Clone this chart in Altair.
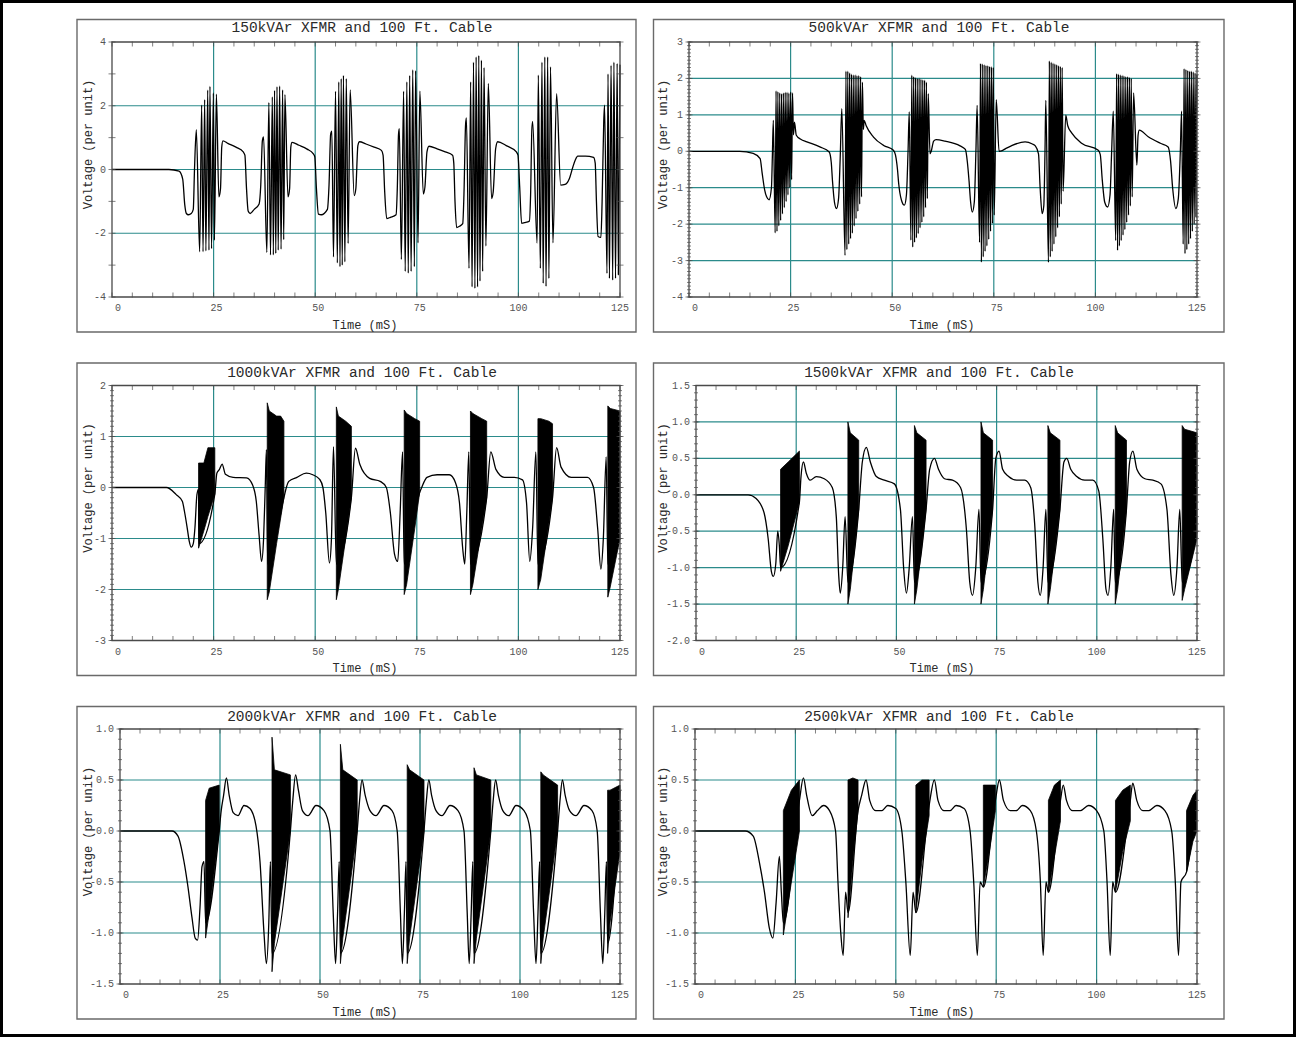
import altair as alt
import pandas as pd

FONT = "Liberation Mono"
TEAL = "#2b8b8b"
AXC = "#4a4a4a"
LABC = "#555555"
TITC = "#2a2a2a"
BOXC = "#6a6a6a"

TITLES = [
    "150kVAr XFMR and 100 Ft. Cable",
    "500kVAr XFMR and 100 Ft. Cable",
    "1000kVAr XFMR and 100 Ft. Cable",
    "1500kVAr XFMR and 100 Ft. Cable",
    "2000kVAr XFMR and 100 Ft. Cable",
    "2500kVAr XFMR and 100 Ft. Cable",
]
X_TITLE = "Time (mS)"
Y_TITLE = "Voltage (per unit)"
X_LABELS = [0, 25, 50, 75, 100, 125]
X_GRID = [25, 50, 75, 100]
X_TICKS = [0, 5, 10, 15, 20, 25, 30, 35, 40, 45, 50, 55, 60, 65, 70, 75, 80, 85,
           90, 95, 100, 105, 110, 115, 120, 125]

Y_DOMAINS = [[-4, 4], [-4, 3], [-3, 2], [-2.0, 1.5], [-1.5, 1.0], [-1.5, 1.0]]
Y_LABELS = [
    ["-4", "-2", "0", "2", "4"],
    ["-4", "-3", "-2", "-1", "0", "1", "2", "3"],
    ["-3", "-2", "-1", "0", "1", "2"],
    ["-2.0", "-1.5", "-1.0", "-0.5", "0.0", "0.5", "1.0", "1.5"],
    ["-1.5", "-1.0", "-0.5", "0.0", "0.5", "1.0"],
    ["-1.5", "-1.0", "-0.5", "0.0", "0.5", "1.0"],
]
Y_GRIDS = [
    [-2, 0, 2],
    [-3, -2, -1, 0, 1, 2],
    [-2, -1, 0, 1],
    [-1.5, -1.0, -0.5, 0.0, 0.5, 1.0],
    [-1.0, -0.5, 0.0, 0.5],
    [-1.0, -0.5, 0.0, 0.5],
]
Y_MAJOR = [
    [-4, -3, -2, -1, 0, 1, 2, 3, 4],
    [-4, -3, -2, -1, 0, 1, 2, 3],
    [-3, -2, -1, 0, 1, 2],
    [-2.0, -1.5, -1.0, -0.5, 0.0, 0.5, 1.0, 1.5],
    [-1.5, -1.0, -0.5, 0.0, 0.5, 1.0],
    [-1.5, -1.0, -0.5, 0.0, 0.5, 1.0],
]
Y_MINOR_STEP = [0, 0.1, 0.1, 0.1, 0.1, 0.1]

# ---------------- waveforms (time ms, voltage pu) ----------------
P1_WAVE = [
    (0, 0), (14, 0), (16.5, -0.05), (17.4, -0.3), (17.9, -1.1), (18.3, -1.38), (18.8, -1.42),
    (19.5, -1.38), (20.0, -1.25), (20.3, 0.0), (20.75, 1.25),
    (21.57, -2.58), (22.06, 2.02), (22.4, -2.58), (22.8, 2.19), (23.1, -2.55), (23.55, 2.49),
    (23.86, -2.53), (24.1, 2.61), (24.5, -2.48), (24.94, 2.4), (25.2, -2.22), (25.68, 2.36),
    (26.3, -0.86), (26.7, -0.6), (27.0, 0.7), (27.3, 0.9), (28.5, 0.82), (30.5, 0.7),
    (32.3, 0.55), (32.7, 0.45), (33.1, -0.6), (33.5, -1.3), (34.0, -1.38), (35.0, -1.25),
    (36.2, -1.08), (36.6, -0.5), (37.0, 0.9), (37.3, 1.02),
    (38.1, -2.6), (38.6, 2.1), (39.0, -2.68), (39.45, 2.28), (39.7, -2.68), (40.0, 2.48),
    (40.3, -2.63), (40.6, 2.6), (40.9, -2.53), (41.25, 2.62), (41.6, -2.5), (41.98, 2.5),
    (42.25, -2.2), (42.55, 2.35),
    (43.3, -0.86), (43.7, -0.6), (44.0, 0.7), (44.3, 0.85), (46.0, 0.76), (48.0, 0.64),
    (49.5, 0.5), (49.9, 0.4), (50.3, -0.6), (50.8, -1.4), (51.5, -1.42), (53.0, -1.25),
    (53.4, -0.5), (53.8, 1.1), (54.1, 1.2),
    (54.5, -2.74), (55.0, 2.45), (55.45, -2.93), (55.8, 2.75), (56.1, -3.05), (56.4, 2.85),
    (56.65, -3.0), (56.95, 2.95), (57.3, -2.9), (57.65, 2.85), (58.1, -2.32), (58.6, 2.5),
    (59.6, -0.82), (60.0, -0.6), (60.5, 0.75), (60.9, 0.87), (62.5, 0.8), (64.5, 0.7),
    (66.3, 0.6), (66.7, 0.45), (67.1, -0.7), (67.6, -1.54), (68.5, -1.5), (69.9, -1.42),
    (70.2, -0.6), (70.5, 1.1), (70.7, 1.28),
    (71.2, -2.82), (71.75, 2.45), (72.15, -3.2), (72.55, 2.75), (72.9, -3.25), (73.25, 2.95),
    (73.6, -3.2), (74.0, 3.13), (74.4, -3.05), (74.7, 3.1), (75.3, -2.3), (75.75, 2.46),
    (76.6, -0.77), (77.0, -0.55), (77.5, 0.55), (78.0, 0.73), (80.0, 0.65), (82.0, 0.55),
    (83.8, 0.45), (84.1, 0.2), (84.4, -1.0), (84.8, -1.82), (85.5, -1.78), (86.3, -1.7),
    (86.6, -0.8), (87.0, 1.4), (87.2, 1.62),
    (87.85, -3.1), (88.25, 2.75), (88.6, -3.68), (88.95, 3.37), (89.3, -3.73), (89.6, 3.53),
    (89.95, -3.68), (90.25, 3.58), (90.55, -3.5), (90.9, 3.43), (91.2, -3.2), (91.55, 3.2),
    (92.0, -2.4), (92.6, 2.7),
    (93.4, -0.91), (93.8, -0.7), (94.4, 0.65), (94.9, 0.87), (97.0, 0.75), (99.5, 0.55),
    (99.9, 0.45), (100.3, -0.5), (100.8, -1.69), (101.5, -1.67), (102.7, -1.62), (103.0, -0.8),
    (103.3, 1.2), (103.5, 1.51),
    (104.6, -2.31), (104.9, 2.96), (105.4, -3.1), (105.8, 3.37), (106.1, -3.57), (106.5, 3.53),
    (106.8, -3.67), (107.2, 3.53), (107.5, -3.42), (107.9, 3.22), (108.5, -2.3), (109.4, 2.38),
    (110.4, -0.49), (111.5, -0.47), (112.5, -0.3), (113.4, 0.08), (114.0, 0.3), (114.6, 0.42),
    (116.5, 0.42), (118.5, 0.38), (118.9, 0.2), (119.2, -1.0), (119.6, -2.1), (120.3, -2.13),
    (120.6, -1.0), (121.0, 1.5), (121.2, 2.02),
    (121.8, -3.26), (122.05, 3.0), (122.4, -3.42), (122.8, 3.27), (123.2, -3.47), (123.5, 3.37),
    (123.9, -3.42), (124.3, 3.33), (124.6, -3.3), (125.0, 3.29),
]

P2_WAVE = [
    (0, 0), (12.5, 0), (15.8, -0.06), (17.5, -0.2), (18.0, -0.6), (18.6, -1.05), (19.1, -1.25),
    (19.7, -1.33), (20.3, -0.98), (20.5, -0.2), (20.75, 0.85),
    (21.2, -2.24), (21.42, 1.66), (21.65, -2.2), (21.87, 1.64), (22.1, -2.05), (22.32, 1.6),
    (22.55, -1.9), (22.77, 1.58), (23.0, -1.72), (23.22, 1.6), (23.45, -1.55), (23.67, 1.62),
    (23.9, -1.38), (24.12, 1.62), (24.35, -1.2), (24.57, 1.6), (24.8, -1.0), (25.02, 1.63),
    (25.25, -0.78), (25.47, 1.6), (25.7, 0.45), (25.95, 0.8),
    (26.4, 0.44), (27.5, 0.33), (29.0, 0.26), (32.2, 0.12), (34.5, -0.02), (35.0, -0.3),
    (35.3, -0.8), (35.8, -1.4), (36.3, -1.57), (36.8, -1.3), (37.2, -0.2), (37.6, 1.17),
    (38.4, -2.86), (38.62, 2.2), (38.85, -2.7), (39.07, 2.2), (39.3, -2.55), (39.52, 2.15),
    (39.75, -2.4), (39.97, 2.12), (40.2, -2.25), (40.42, 2.1), (40.65, -2.05), (40.87, 2.1),
    (41.1, -1.85), (41.32, 2.08), (41.55, -1.65), (41.77, 2.08), (42.0, -1.45), (42.22, 2.05),
    (42.45, -1.25), (42.67, 1.9), (42.9, 0.6), (43.1, 0.85),
    (43.6, 0.7), (45.4, 0.39), (47.9, 0.16), (50.3, 0.03), (50.8, -0.1), (51.3, -0.5),
    (51.6, -0.89), (52.3, -1.35), (53.0, -1.48), (53.5, -1.2), (53.9, 0.0), (54.2, 1.08),
    (54.6, -2.44), (54.82, 2.09), (55.05, -2.63), (55.27, 2.05), (55.5, -2.5), (55.72, 2.02),
    (55.95, -2.38), (56.17, 2.0), (56.4, -2.26), (56.62, 2.0), (56.85, -2.1), (57.07, 1.98),
    (57.3, -1.95), (57.52, 1.96), (57.75, -1.8), (57.97, 1.95), (58.2, -1.55), (58.42, 1.9),
    (58.65, -1.3), (58.87, 1.58),
    (59.3, -0.07), (59.6, 0.0), (60.2, 0.28), (60.8, 0.32), (63.0, 0.28), (66.7, 0.15),
    (68.0, 0.05), (68.5, -0.3), (68.9, -0.8), (69.3, -1.4), (69.7, -1.67), (70.2, -1.4),
    (70.6, 0.0), (70.9, 1.26),
    (71.5, -2.5), (71.72, 2.41), (71.95, -3.04), (72.17, 2.4), (72.4, -2.9), (72.62, 2.38),
    (72.85, -2.75), (73.07, 2.36), (73.3, -2.6), (73.52, 2.35), (73.75, -2.42), (73.97, 2.33),
    (74.2, -2.2), (74.42, 2.32), (74.65, -1.98), (74.87, 2.3), (75.1, -1.75), (75.6, 1.42),
    (76.3, 0.0), (76.9, 0.01), (78.0, 0.08), (79.3, 0.15), (82.7, 0.26), (84.5, 0.2),
    (85.2, 0.15), (86.0, -0.07), (86.4, -1.0), (86.9, -1.71), (87.3, -1.5), (87.6, 0.0),
    (87.8, 1.4),
    (88.45, -3.05), (88.67, 2.48), (88.9, -2.9), (89.12, 2.45), (89.35, -2.75), (89.57, 2.42),
    (89.8, -2.55), (90.02, 2.4), (90.25, -2.35), (90.47, 2.38), (90.7, -2.1), (90.92, 2.35),
    (91.15, -1.8), (91.37, 2.33), (91.6, -1.45), (91.82, 2.3), (92.05, -1.1), (92.7, 0.99),
    (93.2, 0.7), (94.2, 0.5), (96.6, 0.22), (100.7, 0.03), (101.2, -0.09), (101.7, -0.8),
    (102.3, -1.4), (103.0, -1.53), (103.6, -1.2), (104.0, 0.0), (104.4, 1.1),
    (105.0, -2.45), (105.22, 2.13), (105.45, -2.72), (105.67, 2.12), (105.9, -2.6), (106.12, 2.1),
    (106.35, -2.45), (106.57, 2.08), (106.8, -2.3), (107.02, 2.07), (107.25, -2.15), (107.47, 2.05),
    (107.7, -1.95), (107.92, 2.05), (108.15, -1.75), (108.37, 2.03), (108.6, -1.5), (108.82, 2.0),
    (109.05, -1.25), (109.4, 1.6),
    (110.2, -0.38), (110.5, 0.44), (110.8, 0.58), (113.0, 0.4), (116.0, 0.22), (117.9, 0.12),
    (118.5, -0.27), (119.0, -1.0), (119.8, -1.57), (120.4, -1.3), (120.9, 0.0), (121.2, 1.1),
    (121.6, -2.55), (121.82, 2.27), (122.05, -2.81), (122.27, 2.25), (122.5, -2.7), (122.72, 2.22),
    (122.95, -2.55), (123.17, 2.2), (123.4, -2.4), (123.62, 2.2), (123.85, -2.2), (124.07, 2.18),
    (124.3, -2.0), (124.52, 2.15), (124.75, -1.8), (124.97, 2.1),
]

P3_WAVE = [
    (0, 0), (13.4, 0), (15.8, -0.14), (17.3, -0.27), (17.9, -0.5), (18.5, -0.79), (19.0, -1.05),
    (19.5, -1.17), (20.0, -1.1), (20.4, -0.8), (20.9, -0.14), (21.3, -0.03), (21.4, -1.1),
    (25.3, -0.13), (25.8, 0.28), (26.4, 0.35), (27.1, 0.46), (27.9, 0.26), (29.8, 0.2),
    (33.1, 0.19), (34.6, 0.05), (35.5, -0.27), (36.2, -0.94), (36.8, -1.45), (37.3, -1.0),
    (37.7, 0.0), (38.0, 0.74), (38.3, -1.5),
    (42.3, -0.2), (42.9, 0.0), (43.5, 0.12), (45.5, 0.2), (47.8, 0.28), (49.4, 0.25),
    (51.1, 0.16), (51.9, 0.0), (52.6, -0.5), (53.5, -1.48), (54.0, -1.0), (54.5, 0.8), (55.2, -1.5),
    (58.9, -0.2), (59.9, 0.77), (61.0, 0.45), (63.4, 0.18), (66.0, 0.12), (67.5, 0.0),
    (68.5, -0.5), (69.5, -1.3), (70.3, -1.45), (70.9, -0.5), (71.5, 0.7), (71.9, -1.5),
    (75.7, -0.1), (76.2, 0.0), (77.5, 0.2), (80.0, 0.25), (83.0, 0.25), (84.5, 0.1),
    (85.5, -0.3), (86.3, -1.2), (86.8, -1.5), (87.3, -0.5), (87.8, 0.7), (88.2, -1.5),
    (92.2, -0.2), (93.2, 0.7), (94.5, 0.35), (96.5, 0.2), (99.0, 0.2), (101.0, 0.15),
    (102.0, -0.3), (102.8, -1.45), (103.5, -0.8), (104.3, 0.7), (104.8, -1.5),
    (108.4, -0.2), (109.4, 0.78), (110.5, 0.4), (113.0, 0.2), (117.0, 0.2), (118.5, 0.0),
    (119.5, -0.8), (120.3, -1.6), (120.9, -1.0), (121.6, 0.6), (122.0, -1.5), (125.0, -1.0),
]
P3_BURSTS = [
    [(21.3, -1.19, 0.48), (22.6, -0.85, 0.48), (23.6, -0.57, 0.78), (25.3, -0.13, 0.78)],
    [(38.2, -2.2, 1.66), (38.7, -2.05, 1.5), (40.5, -1.1, 1.4), (41.5, -0.6, 1.4), (42.3, -0.2, 1.3)],
    [(55.2, -2.2, 1.58), (55.7, -2.0, 1.4), (57.5, -1.0, 1.3), (58.9, -0.2, 1.2)],
    [(71.9, -2.1, 1.52), (72.5, -1.9, 1.45), (74.5, -0.8, 1.35), (75.7, -0.1, 1.3)],
    [(88.2, -2.1, 1.5), (88.8, -1.9, 1.45), (91.0, -0.8, 1.35), (92.2, -0.2, 1.3)],
    [(104.8, -2.0, 1.35), (105.5, -1.8, 1.35), (107.5, -0.7, 1.3), (108.4, -0.2, 1.25)],
    [(122.0, -2.15, 1.6), (122.6, -1.95, 1.55), (125.0, -1.0, 1.5)],
]

P4_WAVE = [
    (0, 0), (13, 0), (15, -0.05), (17, -0.25), (18, -0.6), (18.8, -1.05), (19.3, -1.12),
    (19.9, -0.95), (20.4, -0.5), (20.8, -0.7), (21.1, -1.0),
    (25.8, -0.1), (26.2, 0.25), (26.8, 0.45), (27.5, 0.3), (28.5, 0.2), (30, 0.25), (32, 0.22),
    (34, 0.1), (35, -0.3), (35.6, -1.1), (36.0, -1.35), (36.6, -1.0), (37.2, -0.3), (37.9, -1.2),
    (40.6, -0.2), (41.5, 0.45), (42.5, 0.65), (43.5, 0.45), (45, 0.25), (47, 0.2), (49.5, 0.15),
    (51, -0.2), (51.8, -1.0), (52.5, -1.35), (53.2, -1.0), (54, -0.3), (54.5, -1.2),
    (57.4, -0.2), (58.3, 0.35), (59.5, 0.5), (60.5, 0.35), (62, 0.22), (64, 0.2), (66, 0.1),
    (67.5, -0.5), (68.3, -1.2), (69.0, -1.38), (69.8, -1.0), (70.6, -0.2), (71.1, -1.2),
    (74.0, -0.2), (74.8, 0.5), (75.6, 0.6), (76.5, 0.35), (78, 0.25), (80, 0.2), (82, 0.2),
    (83.5, 0.1), (84.5, -0.4), (85.3, -1.2), (85.9, -1.38), (86.6, -1.0), (87.3, -0.2), (87.8, -1.2),
    (90.8, -0.2), (91.8, 0.45), (92.5, 0.5), (93.5, 0.35), (95, 0.25), (97, 0.2), (99, 0.2),
    (100.5, 0.05), (101.5, -0.6), (102.3, -1.3), (102.8, -1.38), (103.5, -1.0), (104.2, -0.2),
    (104.6, -1.2),
    (107.4, -0.2), (108.2, 0.45), (109, 0.6), (110, 0.35), (112, 0.22), (114, 0.2), (116, 0.15),
    (117.5, -0.2), (118.5, -1.1), (119.2, -1.38), (120, -1.0), (120.7, -0.2), (121.3, -1.2),
    (125, -0.5),
]
P4_BURSTS = [
    [(21.1, -1.05, 0.35), (23.0, -0.7, 0.45), (25.8, -0.1, 0.6)],
    [(37.9, -1.5, 1.0), (38.5, -1.3, 0.85), (40.6, -0.2, 0.75)],
    [(54.5, -1.5, 0.95), (55.1, -1.3, 0.85), (57.4, -0.2, 0.75)],
    [(71.1, -1.5, 1.0), (71.7, -1.3, 0.85), (74.0, -0.2, 0.75)],
    [(87.8, -1.5, 0.95), (88.4, -1.3, 0.85), (90.8, -0.2, 0.75)],
    [(104.6, -1.5, 0.95), (105.2, -1.3, 0.85), (107.4, -0.2, 0.75)],
    [(121.3, -1.45, 0.95), (121.9, -1.3, 0.9), (125.0, -0.6, 0.85)],
]

P5_WAVE = [
    (0, 0), (13, 0), (14.5, -0.05), (16, -0.3), (17, -0.55), (18, -0.85), (18.8, -1.05),
    (19.4, -1.07), (20, -0.75), (20.5, -0.35), (21.0, -0.3), (21.4, -0.9),
    (24.8, 0.0), (25.3, 0.2), (25.9, 0.35), (26.6, 0.52), (27.3, 0.35), (28.3, 0.18), (29.5, 0.15),
    (31, 0.25), (32.5, 0.22), (34, 0.05), (35, -0.3), (36, -1.0), (36.6, -1.3), (37.2, -0.9),
    (37.6, -0.3), (38.0, -1.2),
    (42.6, 0.0), (43.2, 0.3), (43.9, 0.55), (44.6, 0.4), (45.6, 0.2), (47, 0.15), (49, 0.25),
    (51, 0.2), (52.5, 0.0), (53.3, -0.8), (53.9, -1.3), (54.4, -0.8), (54.8, -0.3), (55.1, -1.2),
    (59.3, 0.0), (59.9, 0.3), (60.5, 0.5), (61.3, 0.35), (62.5, 0.2), (64, 0.15), (66, 0.25),
    (68, 0.2), (69.3, 0.0), (70.1, -0.8), (70.6, -1.3), (71.1, -0.8), (71.5, -0.3), (71.8, -1.2),
    (76, 0.0), (76.6, 0.3), (77.2, 0.5), (77.9, 0.35), (79, 0.2), (80.5, 0.15), (82.5, 0.25),
    (84.5, 0.2), (86, 0.0), (86.8, -0.8), (87.3, -1.3), (87.8, -0.8), (88.2, -0.3), (88.5, -1.2),
    (92.7, 0.0), (93.3, 0.3), (93.9, 0.5), (94.6, 0.35), (95.7, 0.2), (97.2, 0.15), (99, 0.25),
    (101, 0.2), (102.6, 0.0), (103.4, -0.8), (104, -1.3), (104.5, -0.8), (104.9, -0.3), (105.2, -1.2),
    (109.4, 0.0), (110, 0.3), (110.6, 0.5), (111.3, 0.35), (112.4, 0.2), (114, 0.15), (116, 0.25),
    (118, 0.2), (119.3, 0.0), (120.1, -0.8), (120.7, -1.3), (121.2, -0.8), (121.6, -0.3),
    (121.9, -1.1), (125, 0.4),
]
P5_BURSTS = [
    [(21.4, -1.05, 0.3), (22.3, -0.8, 0.42), (24.8, 0.0, 0.45)],
    [(38.0, -1.38, 0.92), (38.6, -1.1, 0.6), (42.6, 0.0, 0.55)],
    [(55.1, -1.3, 0.85), (55.7, -1.05, 0.6), (59.3, 0.0, 0.5)],
    [(71.8, -1.3, 0.65), (72.4, -1.05, 0.6), (76.0, 0.0, 0.5)],
    [(88.5, -1.3, 0.62), (89.1, -1.05, 0.55), (92.7, 0.0, 0.5)],
    [(105.2, -1.3, 0.58), (105.8, -1.05, 0.55), (109.4, 0.0, 0.45)],
    [(121.9, -1.2, 0.4), (122.5, -0.9, 0.4), (125.0, -0.2, 0.45)],
]

P6_WAVE = [
    (0, 0), (12.5, 0), (14.5, -0.05), (16, -0.3), (17.3, -0.6), (18.5, -0.95), (19.4, -1.05),
    (20.2, -0.7), (21.0, -0.25), (21.5, -0.6), (22.0, -0.9),
    (26.0, 0.3), (27.0, 0.52), (27.8, 0.35), (29.2, 0.15), (30.5, 0.2), (32, 0.25), (33.5, 0.2),
    (35, 0.0), (35.6, -0.5), (36.3, -1.0), (36.9, -1.22), (37.5, -0.6), (38.1, -0.8),
    (40.6, 0.2), (41.5, 0.35), (42.6, 0.5), (43.5, 0.3), (45, 0.2), (46.5, 0.2), (48, 0.25),
    (50, 0.22), (51.5, 0.0), (52.5, -0.5), (53.6, -1.22), (54.3, -0.6), (55.0, -0.8),
    (58.3, 0.25), (59.6, 0.5), (60.5, 0.3), (62, 0.2), (63.5, 0.2), (65, 0.25), (67, 0.22),
    (68.5, 0.0), (69.4, -0.5), (70.3, -1.22), (71.0, -0.5), (71.8, -0.55),
    (74.8, 0.3), (75.8, 0.5), (76.8, 0.3), (78.5, 0.2), (80, 0.2), (81.5, 0.25), (83.5, 0.2),
    (85, 0.0), (86, -0.5), (86.7, -1.22), (87.4, -0.5), (88.0, -0.6),
    (91.0, 0.3), (91.7, 0.45), (92.5, 0.3), (94, 0.2), (96, 0.2), (98, 0.25), (100, 0.2),
    (101.8, 0.0), (102.6, -0.5), (103.4, -1.22), (104.0, -0.5), (104.7, -0.6),
    (108.4, 0.3), (109.0, 0.47), (110, 0.3), (111.5, 0.2), (113, 0.2), (115, 0.25), (117, 0.2),
    (118.7, 0.0), (119.6, -0.5), (120.4, -1.22), (121.0, -0.5), (122.4, -0.4), (125, 0.4),
]
P6_BURSTS = [
    [(22.0, -1.02, 0.2), (24.0, -0.5, 0.4), (26.0, 0.0, 0.5)],
    [(38.1, -0.85, 0.5), (39.3, -0.3, 0.52), (40.6, 0.2, 0.5)],
    [(55.0, -0.8, 0.45), (56.5, -0.3, 0.5), (58.3, 0.15, 0.5)],
    [(71.8, -0.55, 0.45), (73.5, -0.15, 0.45), (74.8, 0.2, 0.45)],
    [(88.0, -0.6, 0.3), (89.5, -0.25, 0.45), (91.0, 0.1, 0.5)],
    [(104.7, -0.6, 0.3), (106.5, -0.2, 0.4), (108.4, 0.1, 0.45)],
    [(122.4, -0.4, 0.2), (124.0, -0.1, 0.35), (125.0, 0.0, 0.4)],
]

WAVES = [P1_WAVE, P2_WAVE, P3_WAVE, P4_WAVE, P5_WAVE, P6_WAVE]
BURSTS = [None, None, P3_BURSTS, P4_BURSTS, P5_BURSTS, P6_BURSTS]

# ---------------- layout (pixels, relative to each plot origin) ----------------
W, H = 508, 255
ORIGIN_X = [112, 689, 112, 689, 112, 689]
X0 = [0, 0, 0, 7, 8, 6]
BOX_X = [(-35, 524), (-35.5, 535), (-35, 524), (-35.5, 535), (-35, 524), (-35.5, 535)]
BOX_Y = (-22.5, 290)
YTITLE_ABS = [87.5, 663, 87.5, 663, 87.5, 663]
TITLE_Y = [-14, -14, -13, -13, -12.5, -12.5]
PAGE = (-109, 1181, -39, 992)


def build_panel(k, page=False):
    x0 = X0[k]
    ymin, ymax = Y_DOMAINS[k]
    xs = alt.Scale(domain=[0, 125], range=[x0, W], nice=False, zero=False)
    ys = alt.Scale(domain=[ymin, ymax], nice=False, zero=False)
    one = pd.DataFrame({"k": [0]})
    layers = []
    if page:
        layers.append(alt.Chart(one).mark_rect(color="white").encode(
            x=alt.value(PAGE[0]), x2=alt.value(PAGE[1]),
            y=alt.value(PAGE[2]), y2=alt.value(PAGE[3])))
    bx0, bx1 = BOX_X[k]
    layers.append(alt.Chart(one).mark_rect(fill="white", stroke=BOXC, strokeWidth=1.4).encode(
        x=alt.value(bx0), x2=alt.value(bx1), y=alt.value(BOX_Y[0]), y2=alt.value(BOX_Y[1])))
    layers.append(alt.Chart(pd.DataFrame({"g": X_GRID})).mark_rule(
        color=TEAL, strokeWidth=1.2).encode(
        x=alt.X("g:Q", scale=xs, axis=None), y=alt.value(0), y2=alt.value(H)))
    layers.append(alt.Chart(pd.DataFrame({"g": Y_GRIDS[k]})).mark_rule(
        color=TEAL, strokeWidth=1.2).encode(
        y=alt.Y("g:Q", scale=ys, axis=None), x=alt.value(x0), x2=alt.value(W)))

    if BURSTS[k]:
        rows = [(t, lo, hi, b) for b, seg in enumerate(BURSTS[k]) for (t, lo, hi) in seg]
        bdf = pd.DataFrame(rows, columns=["t", "lo", "hi", "b"])
        layers.append(alt.Chart(bdf).mark_area(
            color="black", stroke="black", strokeWidth=0.8).encode(
            x=alt.X("t:Q", scale=xs, axis=None),
            y=alt.Y("lo:Q", scale=ys, axis=None), y2="hi:Q", detail="b:N"))

    wdf = pd.DataFrame(WAVES[k], columns=["t", "v"])
    wdf["i"] = range(len(wdf))
    layers.append(alt.Chart(wdf).mark_line(
        color="black", strokeWidth=1.3, interpolate="monotone").encode(
        x=alt.X("t:Q", scale=xs, axis=None),
        y=alt.Y("v:Q", scale=ys, axis=None),
        order=alt.Order("i:Q")))

    fdf = pd.DataFrame({"a": [0], "b": [125], "c": [ymin], "d": [ymax]})
    layers.append(alt.Chart(fdf).mark_rect(fillOpacity=0, stroke=AXC, strokeWidth=1.3).encode(
        x=alt.X("a:Q", scale=xs, axis=None), x2="b:Q",
        y=alt.Y("c:Q", scale=ys, axis=None), y2="d:Q"))

    xt = pd.DataFrame({"p": X_TICKS})
    for yy in (H - 2, 2):
        layers.append(alt.Chart(xt).mark_tick(color=AXC, thickness=1, size=5).encode(
            x=alt.X("p:Q", scale=xs, axis=None), y=alt.value(yy)))
    ymaj = pd.DataFrame({"p": Y_MAJOR[k]})
    for xx in (x0, W):
        layers.append(alt.Chart(ymaj).mark_tick(color=AXC, thickness=1, size=7).encode(
            y=alt.Y("p:Q", scale=ys, axis=None), x=alt.value(xx)))
    step = Y_MINOR_STEP[k]
    if step:
        n = int(round((ymax - ymin) / step))
        ymin_df = pd.DataFrame({"p": [round(ymin + step * j, 3) for j in range(n + 1)]})
        for xx in (x0, W):
            layers.append(alt.Chart(ymin_df).mark_tick(color=AXC, thickness=1, size=4).encode(
                y=alt.Y("p:Q", scale=ys, axis=None), x=alt.value(xx)))

    # tick labels
    xl = pd.DataFrame({"p": X_LABELS, "s": [str(v) for v in X_LABELS]})
    layers.append(alt.Chart(xl).mark_text(
        font=FONT, fontSize=10, color=LABC, align="right", baseline="middle", dx=9).encode(
        x=alt.X("p:Q", scale=xs, axis=None), y=alt.value(H + 11), text="s:N"))
    yl = pd.DataFrame({"s": Y_LABELS[k]})
    yl["p"] = [float(s) for s in Y_LABELS[k]]
    layers.append(alt.Chart(yl).mark_text(
        font=FONT, fontSize=10, color=LABC, align="right", baseline="middle").encode(
        y=alt.Y("p:Q", scale=ys, axis=None), x=alt.value(x0 - 6), text="s:N"))
    # axis titles and panel title
    layers.append(alt.Chart(one).mark_text(
        font=FONT, fontSize=12, color=TITC, align="center", baseline="middle").encode(
        x=alt.value(253), y=alt.value(H + 27.6), text=alt.value(X_TITLE)))
    layers.append(alt.Chart(one).mark_text(
        font=FONT, fontSize=12, color=TITC, align="center", baseline="middle", angle=270).encode(
        x=alt.value(YTITLE_ABS[k] - ORIGIN_X[k]), y=alt.value(H / 2 - 25), text=alt.value(Y_TITLE)))
    layers.append(alt.Chart(one).mark_text(
        font=FONT, fontSize=14.5, color=TITC, align="center", baseline="middle").encode(
        x=alt.value(250), y=alt.value(TITLE_Y[k]), text=alt.value(TITLES[k])))

    return alt.layer(*layers).properties(width=W, height=H)


panels = [build_panel(k, page=(k == 0)) for k in range(6)]
chart = alt.concat(
    *panels, columns=2, bounds="flush",
    spacing=alt.RowColnumber(row=88.5, column=69),
).properties(
    background="black",
    padding={"left": 3, "top": 3, "right": 3, "bottom": 3},
).configure_view(strokeWidth=0)

chart.save("out.html", embed_options={"renderer": "svg", "actions": False})
